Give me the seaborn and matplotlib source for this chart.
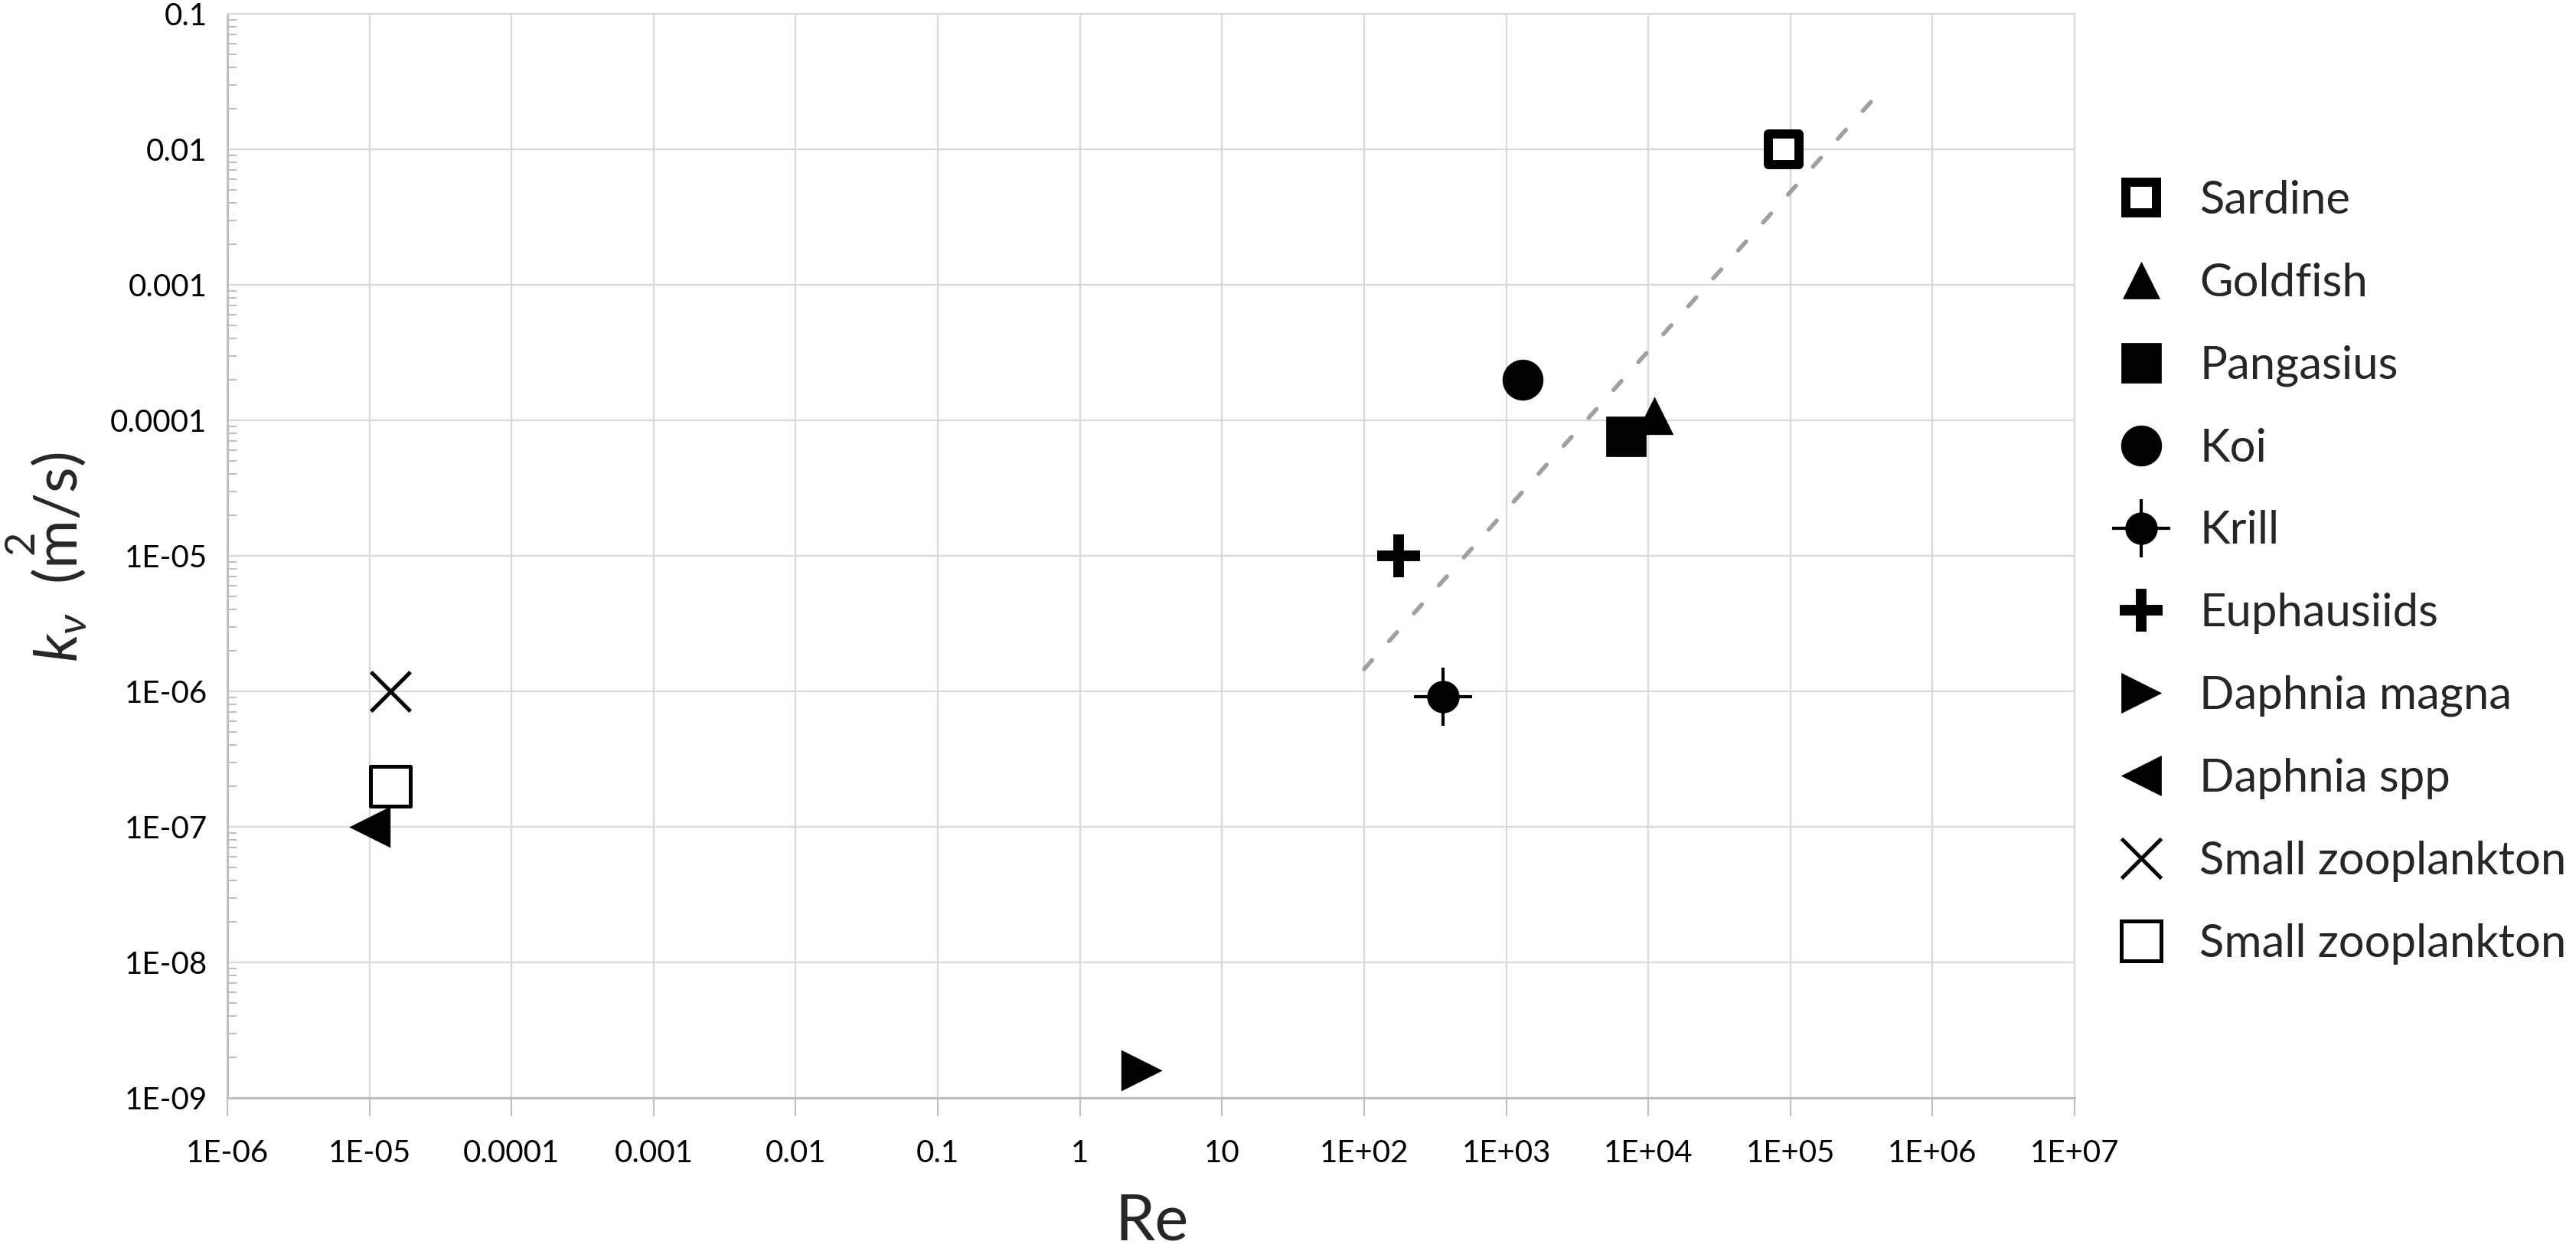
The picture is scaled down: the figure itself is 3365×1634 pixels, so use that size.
import numpy as np
import pandas as pd
import matplotlib
matplotlib.use("Agg")
import matplotlib.pyplot as plt
import seaborn as sns
from matplotlib.lines import Line2D
from matplotlib.legend_handler import HandlerTuple
from matplotlib.ticker import FixedLocator, LogLocator, NullFormatter, FixedFormatter

# ---------------- data ----------------
species = ["Sardine", "Goldfish", "Pangasius", "Koi", "Krill", "Euphausiids",
           "Daphnia magna", "Daphnia spp", "Small zooplankton", "Small zooplankton"]
re_values = [9.0e4, 1.1e4, 7.0e3, 1.3e3, 3.6e2, 1.75e2, 2.7, 1.0e-5, 1.4e-5, 1.4e-5]
kv_values = [1.0e-2, 1.08e-4, 7.6e-5, 2.0e-4, 9.1e-7, 1.0e-5, 1.6e-9, 1.0e-7, 1.0e-6, 2.0e-7]

trend_re = [1.0e2, 4.35e5]
trend_kv = [1.46e-6, 2.72e-2]

x_tick_values = [1e-6, 1e-5, 1e-4, 1e-3, 1e-2, 1e-1, 1e0, 1e1, 1e2, 1e3, 1e4, 1e5, 1e6, 1e7]
x_tick_labels = ["1E-06", "1E-05", "0.0001", "0.001", "0.01", "0.1", "1", "10",
                 "1E+02", "1E+03", "1E+04", "1E+05", "1E+06", "1E+07"]
y_tick_values = [1e-9, 1e-8, 1e-7, 1e-6, 1e-5, 1e-4, 1e-3, 1e-2, 1e-1]
y_tick_labels = ["1E-09", "1E-08", "1E-07", "1E-06", "1E-05", "0.0001", "0.001", "0.01", "0.1"]

# ---------------- styles ----------------
styles = [
    dict(marker="s", size=29.5, fc="white", ec="black", lw=8.6),   # Sardine
    dict(marker="^", size=35, fc="black", ec="black", lw=0.5),     # Goldfish
    dict(marker="s", size=38, fc="black", ec="black", lw=0.5),     # Pangasius
    dict(marker="o", size=38, fc="black", ec="black", lw=0.5),     # Koi
    dict(marker="o", size=30, fc="black", ec="black", lw=0.5),     # Krill (circle part)
    dict(marker="+", size=41, fc="black", ec="black", lw=10),      # Euphausiids
    dict(marker=">", size=38, fc="black", ec="black", lw=0.5),     # Daphnia magna
    dict(marker="<", size=38, fc="black", ec="black", lw=0.5),     # Daphnia spp
    dict(marker="x", size=37, fc="black", ec="black", lw=3.6),     # Small zooplankton (x)
    dict(marker="s", size=37.4, fc="white", ec="black", lw=3.6),   # Small zooplankton (square)
]
krill_cross = dict(marker="+", size=55, lw=3.0)

sns.set_theme(style="white")
plt.rcParams["font.family"] = ["Lato", "DejaVu Sans"]
plt.rcParams["mathtext.fontset"] = "custom"
plt.rcParams["mathtext.rm"] = "Lato"
plt.rcParams["mathtext.it"] = "Lato:italic"
plt.rcParams["mathtext.bf"] = "Lato:bold"

W, H = 3365, 1634
fig = plt.figure(figsize=(W / 100, H / 100), dpi=100)
left, right, top, bottom = 297, 2710, 18, 1434
ax = fig.add_axes([left / W, (H - bottom) / H, (right - left) / W, (bottom - top) / H])
ax.set_xscale("log")
ax.set_yscale("log")

grid_c = "#d9d9d9"
axis_c = "#bfbfbf"
ax.grid(True, which="major", color=grid_c, lw=1.6)
ax.set_axisbelow(True)

df = pd.DataFrame({"species": species, "Re": re_values, "kv": kv_values})

# trend line
sns.lineplot(x=trend_re, y=trend_kv, ax=ax, color="#a0a0a0", lw=4.0,
             dashes=False, zorder=2)
ax.lines[-1].set_dashes((2.8, 6.0))
ax.lines[-1].set_dash_capstyle("round")

for i, st in enumerate(styles):
    row = df.iloc[[i]]
    kws = dict(marker=st["marker"], s=st["size"] ** 2, linewidth=st["lw"], ax=ax,
               legend=False, zorder=3)
    if st["marker"] in ("+", "x"):
        sns.scatterplot(data=row, x="Re", y="kv", color=st["ec"], **kws)
    else:
        sns.scatterplot(data=row, x="Re", y="kv", color=st["fc"], edgecolor=st["ec"], **kws)
    if species[i] == "Krill":
        sns.scatterplot(data=row, x="Re", y="kv", marker="+", s=krill_cross["size"] ** 2,
                        linewidth=krill_cross["lw"], color="black", ax=ax, legend=False, zorder=3)

ax.set_xlabel("")
ax.set_ylabel("")
ax.set_xlim(x_tick_values[0], x_tick_values[-1])
ax.set_ylim(y_tick_values[0], y_tick_values[-1])

# ticks
ax.xaxis.set_major_locator(FixedLocator(x_tick_values))
ax.xaxis.set_major_formatter(FixedFormatter(x_tick_labels))
ax.xaxis.set_minor_locator(FixedLocator([]))
ax.yaxis.set_major_locator(FixedLocator(y_tick_values))
ax.yaxis.set_major_formatter(FixedFormatter(y_tick_labels))
ax.yaxis.set_minor_locator(LogLocator(base=10, subs=np.arange(2, 10), numticks=100))
ax.yaxis.set_minor_formatter(NullFormatter())

ax.tick_params(axis="x", which="major", direction="out", length=17, width=1.5,
               color=axis_c, labelsize=29, pad=22, labelcolor="black", bottom=True)
ax.tick_params(axis="y", which="major", length=0, labelsize=29, pad=19, labelcolor="black")
ax.tick_params(axis="y", which="minor", direction="in", length=8.6, width=1.5,
               color=axis_c, left=True)

for s in ["left", "bottom"]:
    ax.spines[s].set_color(axis_c)
    ax.spines[s].set_linewidth(2.2)
for s in ["top", "right"]:
    ax.spines[s].set_color(grid_c)
    ax.spines[s].set_linewidth(1.6)

# axis titles
fig.text(1505 / W, 1 - 1620 / H, "Re", ha="center", va="baseline", fontsize=60)
fig.text(60 / W, 1 - 728 / H, r"$k_{\nu}\;\ (\overset{2}{\mathrm{m}}/\mathrm{s})$",
         rotation=90, ha="center", va="center", fontsize=56)

# legend
handles = []
for i, st in enumerate(styles):
    h = Line2D([], [], ls="none", marker=st["marker"], markersize=st["size"],
               markerfacecolor=st["fc"], markeredgecolor=st["ec"], markeredgewidth=st["lw"])
    if species[i] == "Krill":
        h2 = Line2D([], [], ls="none", marker="+", markersize=krill_cross["size"],
                    markeredgecolor="black", markeredgewidth=krill_cross["lw"])
        h = (h, h2)
    handles.append(h)

fig.legend(handles, species, loc="upper left", bbox_to_anchor=(2752 / W, 1 - 235 / H),
           frameon=False, fontsize=43, labelspacing=0.90, handlelength=1.5,
           handletextpad=0.53, borderpad=0, borderaxespad=0,
           handler_map={tuple: HandlerTuple(ndivide=1)})

fig.savefig("out.png", dpi=100)
